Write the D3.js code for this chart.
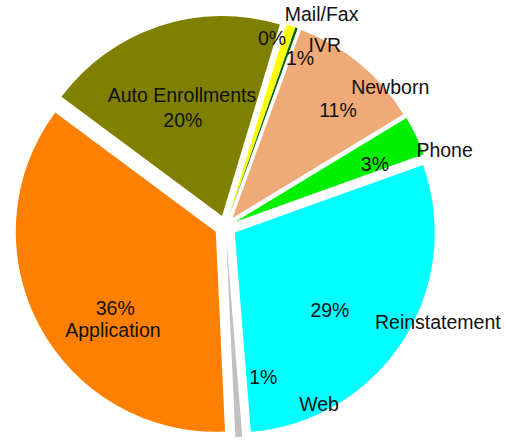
<!DOCTYPE html>
<html>
<head>
<meta charset="utf-8">
<script src="https://cdn.jsdelivr.net/npm/d3@7"></script>
<style>
  body { margin: 0; background: #fff; }
  text { font-family: "Liberation Sans", Arial, sans-serif; font-size: 19.5px; fill: #111; }
</style>
</head>
<body>
<svg id="chart" width="506" height="440"></svg>
<script>
// slices in clockwise order, starting just right of 12 o'clock
const categories = ["Mail/Fax", "IVR", "Newborn", "Phone", "Reinstatement", "Web", "Application", "Auto Enrollments"];
const values = [0.7, 0.2, 10.75, 3.2, 29.2, 0.55, 35.9, 19.5];
const pctLabels = ["0%", "1%", "11%", "3%", "29%", "1%", "36%", "20%"];
const colors = ["#ffff00", "#006400", "#eeaa77", "#00f000", "#00ffff", "#c0c0c0", "#ff8000", "#808000"];

// label placement: radius and angle nudge (deg) from the slice mid-angle
const namePlace = [[233, 6.3], [207, 9.0], [216, 10.3], [232, 6.3], [233, -8.5], [201, -24.1], [153, -14.6], [138, -0.1]];
const pctPlace = [[194, -4.2], [184, 4.2], [162, 4.6], [162, 2.8], [134, 6.0], [155, -10.5], [137, -8.4], [115, -3.5]];

const svg = d3.select("#chart");
const cx = 225.5, cy = 226.5, radius = 200, explode = 11;
const rad = Math.PI / 180;
const start = 16.8 * rad;

const data = categories.map((c, i) => ({ name: c, value: values[i], pct: pctLabels[i], color: colors[i], i: i }));

const pie = d3.pie()
    .sort(null)
    .value(d => d.value)
    .startAngle(start)
    .endAngle(start + 2 * Math.PI);

const arc = d3.arc().innerRadius(0).outerRadius(radius);

const arcs = pie(data);

const g = svg.append("g").attr("transform", "translate(" + cx + "," + cy + ")");

g.selectAll("path")
    .data(arcs)
    .enter().append("path")
    .attr("d", arc)
    .attr("fill", d => d.data.color)
    .attr("transform", d => {
        const m = (d.startAngle + d.endAngle) / 2;
        return "translate(" + (Math.sin(m) * explode) + "," + (-Math.cos(m) * explode) + ")";
    });

function polar(r, a) {
    return [Math.sin(a) * r, -Math.cos(a) * r];
}

const labels = g.append("g");

arcs.forEach(d => {
    const m = (d.startAngle + d.endAngle) / 2;
    const np = namePlace[d.data.i], pp = pctPlace[d.data.i];
    const n = polar(np[0], m + np[1] * rad);
    const p = polar(pp[0], m + pp[1] * rad);
    labels.append("text")
        .attr("x", n[0]).attr("y", n[1])
        .attr("text-anchor", "middle")
        .attr("dy", "0.35em")
        .text(d.data.name);
    labels.append("text")
        .attr("x", p[0]).attr("y", p[1])
        .attr("text-anchor", "middle")
        .attr("dy", "0.35em")
        .text(d.data.pct);
});
</script>
</body>
</html>
